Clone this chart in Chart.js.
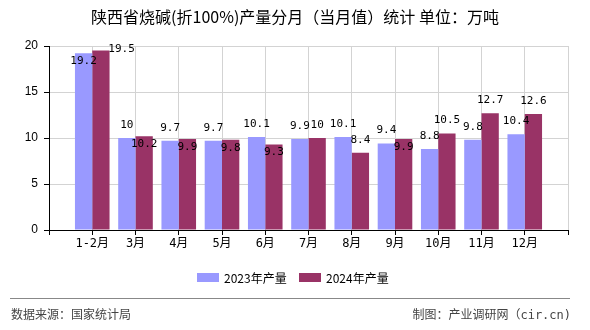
<!DOCTYPE html>
<html><head><meta charset="utf-8">
<script src="https://cdn.jsdelivr.net/npm/chart.js@4/dist/chart.umd.min.js"></script>
<style>html,body{margin:0;padding:0;background:#fff}#wrap{width:590px;height:330px;position:relative}</style>
</head><body><div id="wrap"><canvas id="c" width="590" height="330"></canvas></div>
<script>
const categories = ['1-2月','3月','4月','5月','6月','7月','8月','9月','10月','11月','12月'];
const series2023 = [19.2,10,9.7,9.7,10.1,9.9,10.1,9.4,8.8,9.8,10.4];
const series2024 = [19.5,10.2,9.9,9.8,9.3,10,8.4,9.9,10.5,12.7,12.6];
const seriesNames = ['2023年产量','2024年产量'];
const yTicks = [0,5,10,15,20];
const titleText = '陕西省烧碱(折100%)产量分月（当月值）统计 单位：万吨';
const sourceText = '数据来源：国家统计局';
const makerText = '制图：产业调研网（cir.cn)';

// label placement (style, not data)
const labelPlace = [
  ['in','up','up','up','up','up','up','up','up','up','up'],
  ['right','in','in','in','in','up','up','in','up','up','up']
];
const colors = ['#9999FF','#993366'];
const CJK = '"Noto Sans CJK SC"';
const MONO = '"DejaVu Sans Mono", ' + CJK;

const labels = [''].concat(categories, ['']);
const pad = a => [null].concat(a, [null]);

const decor = {
  id:'decor',
  afterDatasetsDraw(chart){
    const ctx = chart.ctx;
    ctx.save();
    ctx.font = '11px ' + MONO;
    ctx.fillStyle = '#000';
    ctx.textAlign = 'center';
    ctx.textBaseline = 'middle';
    chart.data.datasets.forEach((ds, di) => {
      const meta = chart.getDatasetMeta(di);
      meta.data.forEach((el, i) => {
        const v = ds.data[i];
        if (v == null) return;
        const p = labelPlace[di][i-1];
        const txt = String(v);
        let x = el.x, y = el.y;
        if (p === 'up') y = el.y - 13;
        else if (p === 'in') y = el.y + 8;
        else if (p === 'right') { x = el.x + el.width/2 + 12; y = el.y - 1; }
        ctx.fillText(txt, x, y);
      });
    });
    ctx.restore();
  },
  afterDraw(chart){
    const ctx = chart.ctx;
    ctx.save();
    // title
    ctx.fillStyle = '#000';
    ctx.font = '16px ' + CJK;
    ctx.textAlign = 'center';
    ctx.textBaseline = 'middle';
    ctx.fillText(titleText, 295, 17);
    // legend
    ctx.font = '12px ' + CJK;
    ctx.textAlign = 'left';
    const lx = [197, 299];
    chart.data.datasets.forEach((ds, di) => {
      ctx.fillStyle = ds.backgroundColor;
      ctx.fillRect(lx[di], 273, 22, 9);
      ctx.fillStyle = '#000';
      ctx.fillText(ds.label, lx[di] + 27, 278);
    });
    // footer
    ctx.strokeStyle = '#888';
    ctx.lineWidth = 1;
    ctx.beginPath(); ctx.moveTo(10, 298.5); ctx.lineTo(570, 298.5); ctx.stroke();
    ctx.fillStyle = '#444';
    ctx.font = '12px ' + MONO;
    ctx.textAlign = 'left';
    ctx.fillText(sourceText, 11, 316);
    ctx.textAlign = 'right';
    ctx.fillText(makerText, 571, 316);
    ctx.restore();
  }
};

new Chart(document.getElementById('c'), {
  type:'bar',
  data:{
    labels: labels,
    datasets:[
      {label: seriesNames[0], data: pad(series2023), backgroundColor: colors[0], categoryPercentage:0.8, barPercentage:1.0},
      {label: seriesNames[1], data: pad(series2024), backgroundColor: colors[1], categoryPercentage:0.8, barPercentage:1.0}
    ]
  },
  options:{
    responsive:false,
    animation:false,
    layout:{padding:{top:46,left:0,right:22,bottom:70}},
    plugins:{legend:{display:false},title:{display:false},tooltip:{enabled:false}},
    scales:{
      x:{
        offset:false,
        grid:{offset:false,color:'#d3d3d3',tickColor:'#000',tickLength:5,lineWidth:1},
        border:{color:'#000',width:1},
        ticks:{color:'#000',font:{family:MONO,size:12},padding:2,autoSkip:false,maxRotation:0},
        afterFit(s){ s.height = 30; }
      },
      y:{
        min:0,max:20,
        afterBuildTicks(s){ s.ticks = yTicks.map(v => ({value:v})); },
        grid:{color:'#d3d3d3',tickColor:'#000',tickLength:5},
        border:{color:'#000',width:1},
        ticks:{color:'#000',font:{family:'"Liberation Sans", Arial',size:12},padding:6},
        afterFit(s){ s.width = 49; }
      }
    }
  },
  plugins:[decor]
});
</script></body></html>
